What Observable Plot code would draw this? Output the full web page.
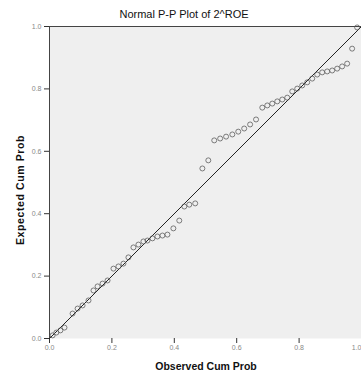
<!DOCTYPE html>
<html>
<head>
<meta charset="utf-8">
<script src="https://cdn.jsdelivr.net/npm/d3@7"></script>
<script src="https://cdn.jsdelivr.net/npm/@observablehq/plot@0.6"></script>
<style>
  html, body { margin: 0; padding: 0; background: #fff; }
  #wrap { position: relative; width: 361px; height: 375px; overflow: hidden; font-family: "Liberation Sans", Arial, sans-serif; }
  #title { position: absolute; left: 84px; width: 200px; top: 8px; text-align: center; font-size: 11px; color: #111; }
  #xlab { position: absolute; left: 106px; width: 200px; top: 360px; text-align: center; font-size: 10.5px; font-weight: bold; color: #111; }
  #ylab { position: absolute; left: 20px; top: 190px; transform: translate(-50%, -50%) rotate(-90deg); white-space: nowrap; font-size: 10.5px; font-weight: bold; color: #111; letter-spacing: 0.6px; }
</style>
</head>
<body>
<div id="wrap">
  <div id="chart"></div>
  <div id="title">Normal P-P Plot of 2^ROE</div>
  <div id="xlab">Observed Cum Prob</div>
  <div id="ylab">Expected Cum Prob</div>
</div>
<script>
// Observed cumulative probabilities (x) and expected cumulative probabilities (y)
const observed = [0.010, 0.022, 0.035, 0.048, 0.074, 0.090, 0.106, 0.125, 0.141, 0.154,
  0.170, 0.186, 0.205, 0.221, 0.237, 0.253, 0.269, 0.285, 0.301, 0.314,
  0.330, 0.346, 0.362, 0.378, 0.397, 0.416, 0.432, 0.448, 0.467, 0.490,
  0.509, 0.528, 0.547, 0.566, 0.586, 0.605, 0.624, 0.643, 0.662, 0.682,
  0.698, 0.714, 0.730, 0.746, 0.762, 0.778, 0.794, 0.810, 0.826, 0.842,
  0.858, 0.874, 0.890, 0.906, 0.922, 0.938, 0.954, 0.970, 0.986];
const expected = [0.010, 0.019, 0.026, 0.035, 0.080, 0.096, 0.106, 0.122, 0.154, 0.167,
  0.176, 0.186, 0.224, 0.231, 0.240, 0.260, 0.292, 0.301, 0.311, 0.314,
  0.321, 0.327, 0.330, 0.333, 0.353, 0.378, 0.423, 0.429, 0.433, 0.545,
  0.571, 0.635, 0.641, 0.647, 0.654, 0.663, 0.673, 0.686, 0.702, 0.740,
  0.747, 0.753, 0.760, 0.766, 0.772, 0.792, 0.801, 0.811, 0.821, 0.833,
  0.846, 0.853, 0.856, 0.859, 0.865, 0.872, 0.881, 0.929, 0.997];
const tickValues = [0, 0.2, 0.4, 0.6, 0.8, 1.0];
const refLine = [0, 1];

const points = observed.map((x, i) => ({x, y: expected[i]}));
const diag = refLine.map(v => ({x: v, y: v}));
const fmt = d3.format(".1f");

const chart = Plot.plot({
  width: 361,
  height: 375,
  marginTop: 26,
  marginLeft: 49,
  marginRight: 0,
  marginBottom: 37,
  style: {background: "transparent", fontFamily: "Liberation Sans, Arial, sans-serif", overflow: "visible"},
  x: {domain: [0, 1], ticks: tickValues, tickFormat: fmt, label: null},
  y: {domain: [0, 1], ticks: tickValues, tickFormat: fmt, label: null},
  marks: [
    Plot.frame({fill: "#efefef", stroke: null}),
    Plot.ruleX([0], {stroke: "#444", strokeWidth: 1}),
    Plot.ruleY([1], {stroke: "#444", strokeWidth: 1}),
    Plot.axisX({ticks: tickValues.slice(0, -1), tickFormat: fmt, tickSize: 5, tickPadding: 2, fontSize: 7, color: "#888", stroke: "#333", label: null}),
    Plot.axisX({ticks: tickValues.slice(-1), tickFormat: fmt, tickSize: 5, tickPadding: 2, fontSize: 7, color: "#888", stroke: "#333", textAnchor: "end", label: null}),
    Plot.axisY({ticks: tickValues, tickFormat: fmt, tickSize: 5, tickPadding: 3, fontSize: 7, color: "#888", stroke: "#333", label: null}),
    Plot.line(diag, {x: "x", y: "y", stroke: "#222", strokeWidth: 1}),
    Plot.dot(points, {x: "x", y: "y", r: 2.5, stroke: "#555", strokeWidth: 0.75, fill: "none"})
  ]
});
document.getElementById("chart").appendChild(chart);
</script>
</body>
</html>
